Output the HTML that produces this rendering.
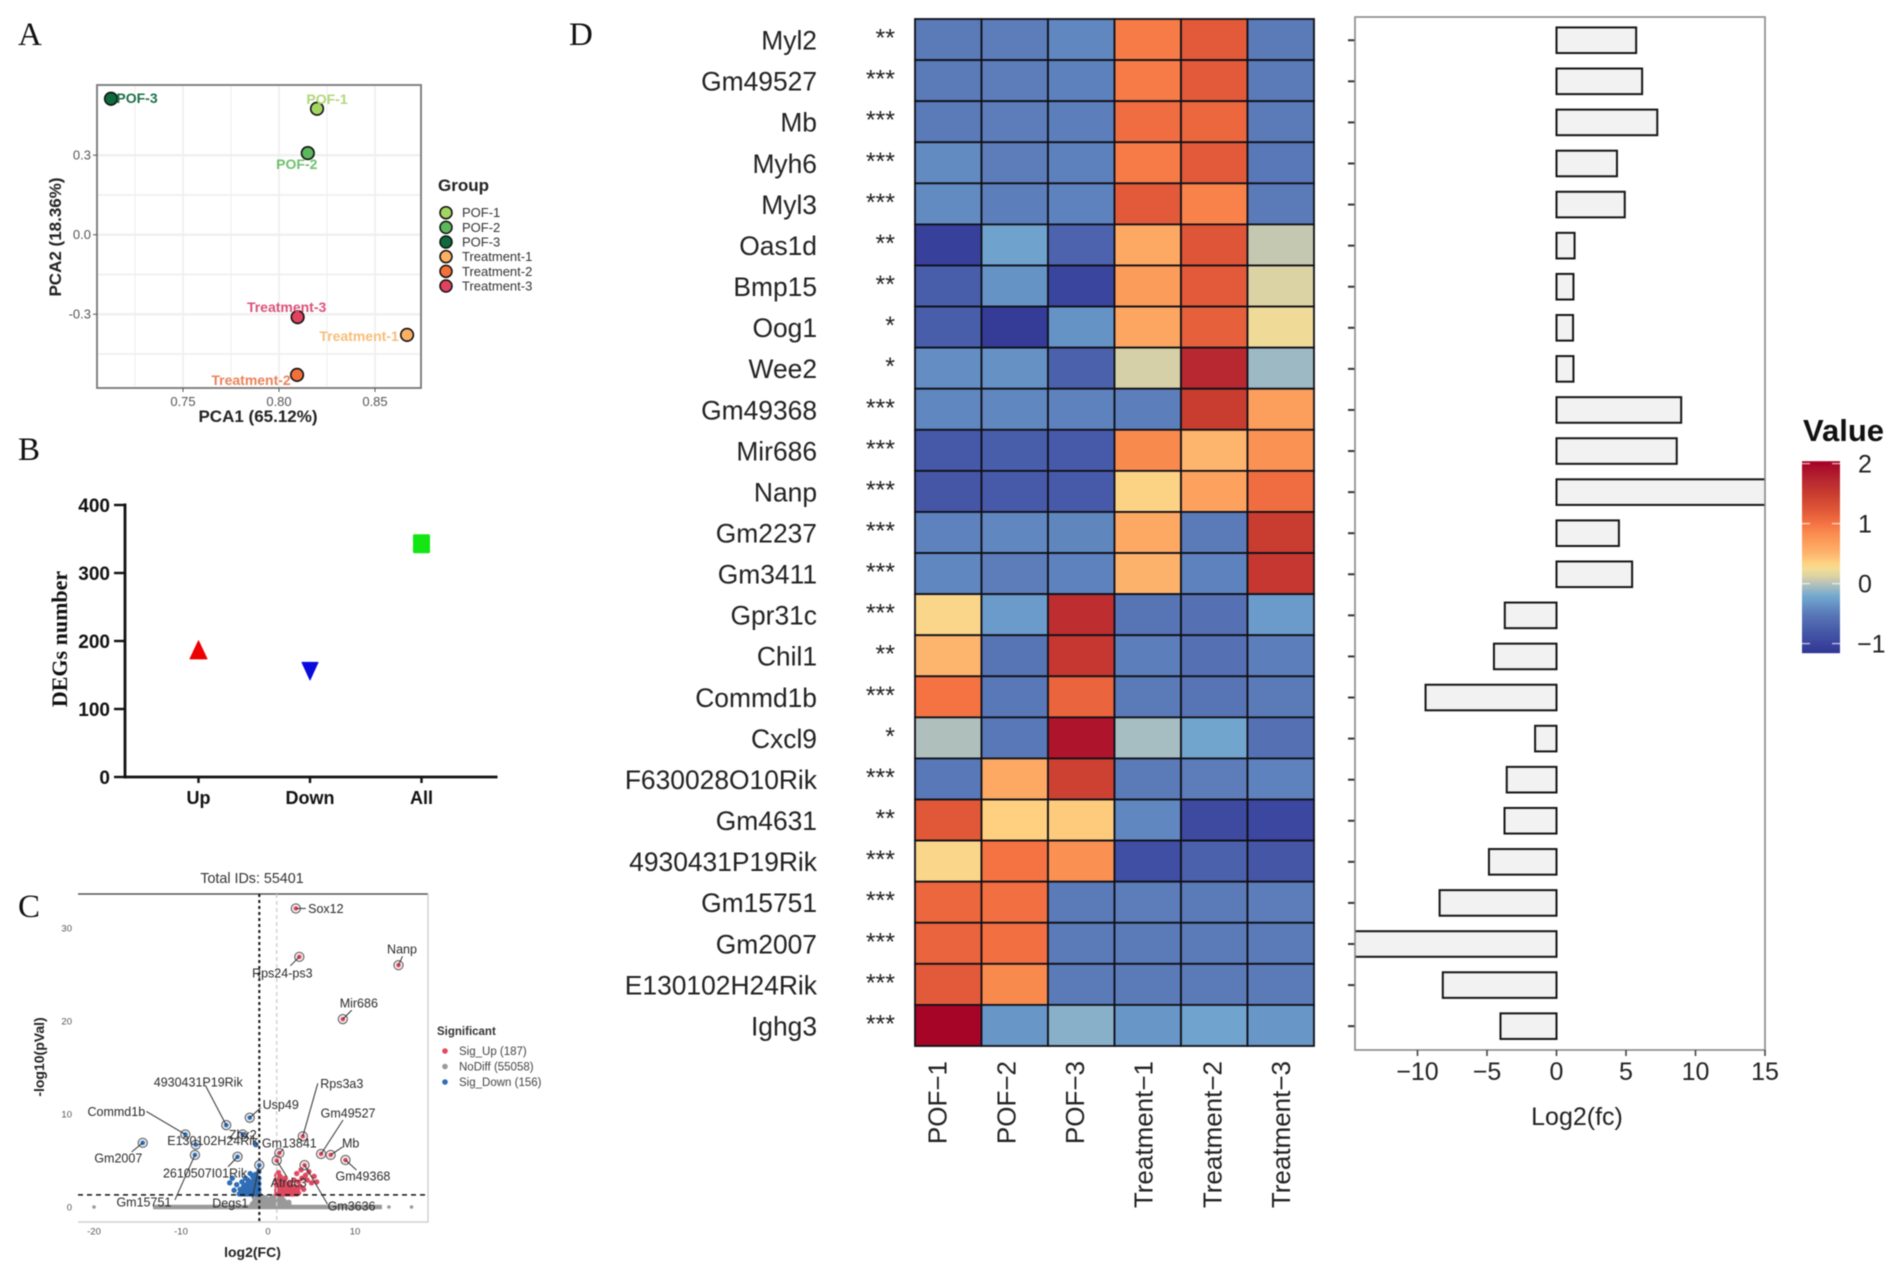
<!DOCTYPE html>
<html lang="en">
<head>
<meta charset="utf-8">
<title>Transcriptome figure: PCA, DEG counts, volcano plot and heatmap</title>
<style>
  html, body { margin: 0; padding: 0; background: #fff; }
  body { width: 1902px; height: 1273px; overflow: hidden; }
  svg { display: block; filter: blur(0.45px); }
  text { font-family: "Liberation Sans", sans-serif; }
  .serif { font-family: "Liberation Serif", serif; }
</style>
</head>
<body>
<svg id="fig" xmlns="http://www.w3.org/2000/svg" width="1902" height="1273" viewBox="0 0 1902 1273">
  <rect width="1902" height="1273" fill="#fff"/>
  <text class="serif" x="18" y="45" font-size="33" fill="#111">A</text>
  <text class="serif" x="18" y="460" font-size="33" fill="#111">B</text>
  <text class="serif" x="18" y="917" font-size="33" fill="#111">C</text>
  <text class="serif" x="569" y="45" font-size="33" fill="#111">D</text>

  <text x="258" y="422" font-size="17" font-weight="bold" text-anchor="middle" fill="#222">PCA1 (65.12%)</text>
  <text transform="translate(61 237) rotate(-90)" font-size="17" font-weight="bold" text-anchor="middle" fill="#222">PCA2 (18.36%)</text>
  <text x="438" y="191" font-size="17" font-weight="bold" fill="#222">Group</text>

  <text class="serif" transform="translate(67 639) rotate(-90)" font-size="22" font-weight="bold" text-anchor="middle" fill="#111">DEGs number</text>

  <text x="252" y="883" font-size="14.3" text-anchor="middle" fill="#333">Total IDs: 55401</text>
  <text x="252.5" y="1257" font-size="14" font-weight="bold" text-anchor="middle" fill="#222">log2(FC)</text>
  <text transform="translate(44 1057) rotate(-90)" font-size="14" font-weight="bold" text-anchor="middle" fill="#222">-log10(pVal)</text>
  <text x="437" y="1035" font-size="11.5" font-weight="bold" fill="#333">Significant</text>

  <text x="1577" y="1125" font-size="25" text-anchor="middle" fill="#222">Log2(fc)</text>
  <text x="1803" y="441" font-size="31" font-weight="bold" fill="#111">Value</text>

  <defs>
    <clipPath id="bar-clip"><rect x="1355" y="17" width="410" height="1033"/></clipPath>
    <linearGradient id="value-gradient" x1="0" y1="1" x2="0" y2="0"></linearGradient>
  </defs>
</svg>

<script>
// ---------- Panel A: PCA ----------
const pcaGroups = ['POF-1', 'POF-2', 'POF-3', 'Treatment-1', 'Treatment-2', 'Treatment-3'];
const pcaScore1 = [0.8198, 0.8150, 0.7125, 0.8667, 0.8094, 0.8097];
const pcaScore2 = [0.4755, 0.3080, 0.5130, -0.3780, -0.5290, -0.3110];
const pcaXTicks = [0.75, 0.80, 0.85];
const pcaYTicks = [0.3, 0.0, -0.3];
const pcaXMinor = [0.725, 0.775, 0.825];
const pcaYMinor = [0.15, -0.15, -0.45];

// ---------- Panel B: DEG counts ----------
const degCategories = ['Up', 'Down', 'All'];
const degCounts = [187, 156, 343];
const degTicks = [0, 100, 200, 300, 400];

// ---------- Panel C: volcano ----------
const volcanoXTicks = [-20, -10, 0, 10];
const volcanoYTicks = [0, 10, 20, 30];
const volcanoBandRange = [-13.2, 13.1];
const calloutGenes = ['Sox12','Rps24-ps3','Nanp','Mir686','Gm49527','Mb','Gm49368','Rps3a3','Gm13841','Atrdc3','Gm3636','Gm2007','Commd1b','4930431P19Rik','Usp49','Zhx2','E130102H24Rik','Gm15751','2610507I01Rik','Degs1'];
const calloutLog2FC = [3.2,3.6,15,8.6,6.1,7.2,8.9,4,1.3,1,4.2,-14.4,-9.5,-4.8,-2.1,-2.9,-8.3,-8.4,-3.5,-1];
const calloutLogP = [32.1,26.9,26,20.2,5.7,5.6,5.05,7.6,5.8,5,4.5,6.9,7.8,8.8,9.6,7.8,6.7,5.6,5.4,4.5];
const upX = [1,1,1,1,1.1,1.1,1.1,1.1,1.2,1.2,1.2,1.2,1.2,1.3,1.3,1.3,1.4,1.4,1.4,1.4,1.5,1.5,1.5,1.6,1.6,1.6,1.6,1.7,1.7,1.8,1.8,1.8,1.9,1.9,2,2,2,2,2.1,2.2,2.2,2.3,2.3,2.4,2.5,2.5,2.6,2.7,2.7,2.8,2.9,3,3,3.1,3.2,3.3,3.4,3.5,3.5,3.7,3.8,3.9,4.1,4.3,4.5,4.7,5,5.3,5.6,
  1,1.05,1.05,1.15,1.15,1.25,1.25,1.25,1.35,1.35,1.35,1.45,1.45,1.55,1.55,1.55,1.65,1.65,1.75,1.75,1.75,1.85,1.85,1.95,1.95,2.05,2.05,2.15,2.15,2.25,2.35,2.35,2.45,2.55,2.65,2.75,2.85,2.95,3.1,3.3];
const upY = [1.4,1.8,2.3,2.8,1.5,2.0,2.6,3.2,1.4,1.9,2.4,3.0,3.7,1.6,2.2,2.8,1.4,1.9,2.5,3.3,1.6,2.1,2.7,1.4,1.9,2.4,3.0,1.6,2.2,1.4,1.9,2.6,1.6,2.2,1.4,1.9,2.5,3.1,1.6,1.4,2.0,1.6,2.4,1.4,1.8,2.6,1.4,1.7,2.2,1.4,1.9,1.5,2.9,2.2,1.6,3.6,1.9,1.5,2.7,2.2,4.0,3.1,1.9,3.4,2.9,3.8,2.6,3.3,2.7,
  3.4,1.6,2.2,1.7,2.7,1.5,2.1,3.4,1.4,1.9,2.5,1.7,2.2,1.4,2.4,2.9,1.7,2.1,1.4,1.9,2.5,1.7,2.3,1.4,1.9,1.7,2.2,1.5,1.9,1.8,1.5,2.0,1.6,1.9,1.5,1.9,1.6,1.4,1.6,1.4];
const downX = [-1.05,-1.05,-1.05,-1.05,-1.05,-1.15,-1.15,-1.15,-1.25,-1.25,-1.25,-1.25,-1.35,-1.35,-1.35,-1.45,-1.45,-1.45,-1.45,-1.55,-1.55,-1.55,-1.65,-1.65,-1.65,-1.75,-1.75,-1.75,-1.85,-1.85,-1.85,-1.95,-1.95,-2.05,-2.05,-2.05,-2.05,-2.2,-2.2,-2.3,-2.3,-2.4,-2.5,-2.5,-2.6,-2.7,-2.8,-2.8,-3,-3,-3.2,-3.3,-3.6,-3.9,-4.1,-4.4,-1.4,
  -1.1,-1.1,-1.2,-1.2,-1.3,-1.3,-1.3,-1.4,-1.4,-1.5,-1.5,-1.5,-1.6,-1.6,-1.7,-1.7,-1.7,-1.8,-1.8,-1.9,-1.9,-1.9,-2,-2,-2.1,-2.1,-2.2,-2.3,-2.3,-2.4,-2.5,-2.6,-2.6,-2.7,-2.9,-3.1];
const downY = [1.4,1.9,2.5,3.1,3.8,1.5,2.1,2.8,1.4,1.9,2.4,3.2,1.6,2.2,2.9,1.4,1.9,2.5,3.5,1.6,2.2,3.0,1.4,1.9,2.6,1.6,2.3,3.3,1.4,1.9,2.7,1.6,2.2,1.4,1.9,2.5,3.6,1.6,2.2,1.4,2.9,1.9,1.5,2.4,3.1,1.7,1.4,2.2,1.6,2.7,1.9,1.4,2.4,1.8,3.1,2.6,6.7,
  1.7,2.4,1.6,2.2,1.4,1.9,2.6,1.6,2.2,1.4,1.9,2.7,1.7,2.4,1.4,2.0,2.8,1.6,2.3,1.4,1.9,2.5,1.7,2.2,1.4,2.0,1.9,1.6,2.2,1.4,1.9,1.4,2.1,1.5,1.8,1.4];
const noDiffX = [-1.8,-1.6,-1.5,-1.3,-1.2,-1.1,-1,-0.9,-0.8,-0.7,-0.6,-0.5,-0.4,-0.3,-0.2,-0.1,0,0.1,0.2,0.3,0.4,0.5,0.6,0.7,0.8,0.9,1,1.1,1.3,1.5,1.7,1.9,2.1,2.3,-0.8,-0.5,-0.2,0.2,0.5,0.8,-20,13.9,16.5,
  -1.7,-1.4,-1.4,-1,-1,-0.6,-0.6,-0.3,0,0,0.3,0.6,0.6,1,1.2,1.2,1.4,1.4,1.6,1.6,1.8,1.8,2,2,2.2,2.4,2.4];
const noDiffY = [0.3,0.5,0.8,0.4,0.9,1.1,0.6,1.2,0.7,1.1,0.5,0.9,0.4,0.7,0.3,0.4,0.2,0.4,0.3,0.6,0.5,0.9,0.7,1.1,0.8,1.2,0.7,1.1,0.9,0.7,0.6,0.5,0.4,0.3,0.3,0.4,0.2,0.2,0.3,0.4,0,0,0,
  0.2,0.3,0.7,0.2,0.9,0.3,0.8,1.0,0.5,0.8,0.9,0.3,1.0,0.3,0.5,0.9,0.3,0.7,0.4,0.9,0.3,0.7,0.2,0.5,0.3,0.2,0.5];
const volcanoLegendLabels = ['Sig_Up (187)', 'NoDiff (55058)', 'Sig_Down (156)'];

// ---------- Panel D: heatmap and log2FC bars ----------
const genes = ['Myl2','Gm49527','Mb','Myh6','Myl3','Oas1d','Bmp15','Oog1','Wee2','Gm49368','Mir686','Nanp','Gm2237','Gm3411','Gpr31c','Chil1','Commd1b','Cxcl9','F630028O10Rik','Gm4631','4930431P19Rik','Gm15751','Gm2007','E130102H24Rik','Ighg3'];
const stars = ['**','***','***','***','***','**','**','*','*','***','***','***','***','***','***','**','***','*','***','**','***','***','***','***','***'];
const samples = ['POF\u22121','POF\u22122','POF\u22123','Treatment\u22121','Treatment\u22122','Treatment\u22123'];
const heatValues = [
  [-.5,-.48,-.42,.95,1.2,-.5],
  [-.5,-.48,-.46,.95,1.2,-.5],
  [-.5,-.48,-.47,1.05,1.1,-.5],
  [-.4,-.48,-.46,.95,1.2,-.52],
  [-.4,-.47,-.45,1.2,.9,-.5],
  [-1.05,-.25,-.7,.6,1.25,.05],
  [-.75,-.35,-1.0,.7,1.2,.12],
  [-.75,-1.1,-.35,.62,1.15,.22],
  [-.38,-.36,-.72,.1,1.72,-.08],
  [-.42,-.42,-.45,-.47,1.5,.68],
  [-.8,-.75,-.78,.85,.5,.78],
  [-.82,-.78,-.78,.33,.65,1.05],
  [-.45,-.42,-.43,.6,-.5,1.5],
  [-.42,-.48,-.45,.52,-.45,1.55],
  [.3,-.3,1.65,-.55,-.58,-.3],
  [.5,-.55,1.55,-.47,-.58,-.47],
  [1.0,-.52,1.12,-.5,-.55,-.5],
  [-.02,-.52,1.88,-.05,-.23,-.58],
  [-.52,.6,1.45,-.5,-.48,-.45],
  [1.22,.35,.38,-.42,-.95,-.98],
  [.3,1.0,.8,-.9,-.72,-.82],
  [1.1,1.03,-.5,-.48,-.5,-.48],
  [1.12,1.03,-.5,-.5,-.5,-.5],
  [1.2,.85,-.5,-.5,-.5,-.5],
  [2.0,-.33,-.14,-.33,-.24,-.33]
];
const log2fc = [5.73,6.16,7.25,4.35,4.91,1.3,1.22,1.19,1.22,8.97,8.65,15.6,4.49,5.44,-3.72,-4.5,-9.42,-1.54,-3.58,-3.74,-4.86,-8.41,-15.2,-8.18,-4.03];
const fcTicks = [-10,-5,0,5,10,15];
const valueTicks = [2,1,0,-1];
const scaleValues = [-1.16,-0.8,-0.5,-0.3,-0.2,-0.05,0.05,0.12,0.25,0.35,0.5,0.65,0.85,1.0,1.2,1.5,1.75,2.04];

// ---------- Styling (not data) ----------
const pcaColors = ['#a2d660','#5cb85c','#0f6b3c','#fdb063','#f4703a','#e0435f'];
const pcaTextColors = ['#b0d878','#6fc06f','#1a7048','#f6bd78','#e8835a','#d8527a'];
const pcaLabelShift = [[10,-9.7],[-11,11],[26,-0.7],[-48,1],[-46,5],[-11,-10]];
const scaleColors = ['#313695','#4658a8','#5a7ab8','#6a9bca','#74a9cf','#a6bdc1','#c5c8b0','#dbd3a4','#f5dc95','#fed080','#fdb56e','#fda25e','#f98a4e','#f57343','#e25a39','#c93c30','#b62530','#a50026'];
// Callout layout, relative to each point: text dx, text dy, leader dx, leader dy
const calloutLayout = [[30,0,10,0],[-17,16,-9,9],[3.5,-16,4,-9],[16,-16,9,-9],[27,-41,22,-34],[20,-12,12,-8],[17.5,16,11,10],[39,-53,15,-53],[10,-10,4,-4],[12,22,10,16],[47,41,23,39],[-24.4,15,-11,9],[-69,-23,-39,-23],[-28,-43,-21,-40],[31,-13,11,-10],[0,0,0,0],[17,-4,0,0],[-51,47,-20,45],[-32.5,16,-9.5,10],[-29,38,-7,33]];

// ---------- Axis functions ----------
const pcaX = v => 183 + (v - 0.75) * 1920;
const pcaY = v => 234.7 - v * 265;
const degY = v => 777 - v * 0.68;
const degX = i => 198.5 + i * 111.5;
const volX = v => 268 + v * 8.7;
const volY = v => 1207 - v * 9.3;
const rowY = i => 19 + i * 41.08;
const rowMid = i => rowY(i) + 20.54;
const colX = j => 915 + j * 66.5;
const sampleLabelX = j => 946.6 + j * 68.7;
const fcX = v => 1556.5 + v * 13.9;
const valueY = v => 583.6 - v * 60;

function hexToRgb(h) { return [1, 3, 5].map(k => parseInt(h.substr(k, 2), 16)); }
function heatColor(v) {
  const n = scaleValues.length;
  if (v <= scaleValues[0]) return scaleColors[0];
  if (v >= scaleValues[n - 1]) return scaleColors[n - 1];
  let i = 0;
  while (v > scaleValues[i + 1]) i++;
  const t = (v - scaleValues[i]) / (scaleValues[i + 1] - scaleValues[i]);
  const a = hexToRgb(scaleColors[i]);
  const b = hexToRgb(scaleColors[i + 1]);
  return 'rgb(' + a.map((c, k) => Math.round(c + (b[k] - c) * t)).join(',') + ')';
}

const svg = document.getElementById('fig');
const NS = 'http://www.w3.org/2000/svg';
function add(parent, tag, attrs, text) {
  const e = document.createElementNS(NS, tag);
  for (const k in attrs) e.setAttribute(k, attrs[k]);
  if (text !== undefined) e.textContent = text;
  parent.appendChild(e);
  return e;
}
let el;

// ---------- Panel A ----------
const gA = add(svg, 'g', {});


pcaXTicks.concat(pcaXMinor).forEach((t, i) => {
  el = add(gA, 'line', {x1: pcaX(t), x2: pcaX(t), y1: 85, y2: 388, stroke: '#eeeeee', 'stroke-width': i < 3 ? 1.5 : 1});
  
  
});
pcaYTicks.concat(pcaYMinor).forEach((t, i) => {
  el = add(gA, 'line', {x1: 97, x2: 421, y1: pcaY(t), y2: pcaY(t), stroke: '#eeeeee', 'stroke-width': i < 3 ? 2 : 1.5});
  
  
});
el = add(gA, 'rect', {x: 97, y: 85, width: 324, height: 303, fill: 'none', stroke: '#777', 'stroke-width': 1.8});


pcaXTicks.forEach(t => {
  el = add(gA, 'line', {x1: pcaX(t), x2: pcaX(t), y1: 388, y2: 392, stroke: '#555', 'stroke-width': 1});
  
  
  el = add(gA, 'text', {x: pcaX(t), y: 406, 'font-size': 13, 'text-anchor': 'middle', fill: '#555'}, t.toFixed(2));
  
  
});
pcaYTicks.forEach(t => {
  el = add(gA, 'line', {x1: 93, x2: 97, y1: pcaY(t), y2: pcaY(t), stroke: '#555', 'stroke-width': 1});
  
  
  el = add(gA, 'text', {x: 91, y: pcaY(t) + 4.5, 'font-size': 13, 'text-anchor': 'end', fill: '#555'}, t.toFixed(1));
  
  
});
pcaGroups.forEach((g, i) => {
  el = add(gA, 'circle', {cx: pcaX(pcaScore1[i]), cy: pcaY(pcaScore2[i]), r: 6.3, fill: pcaColors[i], stroke: '#111', 'stroke-width': 1.6});
  
  
  el = add(gA, 'text', {x: pcaX(pcaScore1[i]) + pcaLabelShift[i][0], y: pcaY(pcaScore2[i]) + pcaLabelShift[i][1] + 5, 'font-size': 14, 'font-weight': 'bold', 'text-anchor': 'middle', fill: pcaTextColors[i]}, g);
  
  
  el = add(gA, 'circle', {cx: 446, cy: 212.7 + i * 14.66, r: 6, fill: pcaColors[i], stroke: '#111', 'stroke-width': 1.5});
  
  
  el = add(gA, 'text', {x: 462, y: 217.2 + i * 14.66, 'font-size': 13, fill: '#333'}, g);
  
  
});

// ---------- Panel B ----------
const gB = add(svg, 'g', {});


el = add(gB, 'line', {x1: 125, x2: 125, y1: degY(400) - 1.5, y2: degY(0) + 1.5, stroke: '#111', 'stroke-width': 2.8});


el = add(gB, 'line', {x1: 125, x2: 497.5, y1: degY(0), y2: degY(0), stroke: '#111', 'stroke-width': 2.8});


degTicks.forEach(t => {
  el = add(gB, 'line', {x1: 114, x2: 125, y1: degY(t), y2: degY(t), stroke: '#111', 'stroke-width': 2.4});
  
  
  el = add(gB, 'text', {x: 110, y: degY(t) + 7, 'font-size': 19, 'font-weight': 'bold', 'text-anchor': 'end', fill: '#111'}, t);
  
  
});
degCategories.forEach((c, i) => {
  const cx = degX(i), cy = degY(degCounts[i]);
  el = add(gB, 'line', {x1: cx, x2: cx, y1: degY(0), y2: degY(0) + 6, stroke: '#111', 'stroke-width': 2.4});
  
  
  el = add(gB, 'text', {x: cx, y: 804, 'font-size': 18, 'font-weight': 'bold', 'text-anchor': 'middle', fill: '#111'}, c);
  
  
  if (i === 0) {
    el = add(gB, 'path', {d: 'M' + cx + ' ' + (cy - 9) + 'L' + (cx + 8.5) + ' ' + (cy + 9) + 'L' + (cx - 8.5) + ' ' + (cy + 9) + 'Z', fill: '#ee0000', stroke: '#ee0000', 'stroke-linejoin': 'round'});
  } else if (i === 1) {
    el = add(gB, 'path', {d: 'M' + cx + ' ' + (cy + 9) + 'L' + (cx + 8) + ' ' + (cy - 8.5) + 'L' + (cx - 8) + ' ' + (cy - 8.5) + 'Z', fill: '#0a0adf', stroke: '#0a0adf', 'stroke-linejoin': 'round'});
  } else {
    el = add(gB, 'rect', {x: cx - 8.5, y: cy - 9.5, width: 17, height: 19, rx: 1.5, fill: '#14e614'});
  }
  
  
});

// ---------- Panel C ----------
const gC = add(svg, 'g', {});


el = add(gC, 'line', {x1: 78, x2: 428, y1: 894, y2: 894, stroke: '#555', 'stroke-width': 1.6});


el = add(gC, 'path', {d: 'M78 1222H428V894', fill: 'none', stroke: '#d0d0d0', 'stroke-width': 1.4});


volcanoXTicks.forEach(t => {
  el = add(gC, 'text', {x: volX(t), y: 1234.5, 'font-size': 9.5, 'text-anchor': 'middle', fill: '#555'}, t);
  
  
});
volcanoYTicks.forEach(t => {
  el = add(gC, 'text', {x: 72, y: volY(t) + 3.5, 'font-size': 9.5, 'text-anchor': 'end', fill: '#555'}, t);
  
  
});
el = add(gC, 'line', {x1: volX(volcanoBandRange[0]), x2: volX(volcanoBandRange[1]), y1: volY(0), y2: volY(0), stroke: '#999', 'stroke-width': 4.5});


noDiffX.forEach((x, i) => {
  el = add(gC, 'circle', {cx: volX(x), cy: volY(noDiffY[i]), r: Math.abs(x) > 10 ? 1.8 : 2.7, fill: '#999'});
  
  
});
upX.forEach((x, i) => {
  el = add(gC, 'circle', {cx: volX(x), cy: volY(upY[i]), r: 2.7, fill: '#dd4a5f'});
  
  
});
downX.forEach((x, i) => {
  el = add(gC, 'circle', {cx: volX(x), cy: volY(downY[i]), r: 2.7, fill: '#2f6db5'});
  
  
});
el = add(gC, 'line', {x1: volX(1), x2: volX(1), y1: 894, y2: 1222, stroke: '#cfcfcf', 'stroke-width': 1.4, 'stroke-dasharray': '4 3'});


el = add(gC, 'line', {x1: volX(-1), x2: volX(-1), y1: 894, y2: 1222, stroke: '#111', 'stroke-width': 2, 'stroke-dasharray': '3 3'});


el = add(gC, 'line', {x1: 78, x2: 428, y1: volY(1.3), y2: volY(1.3), stroke: '#111', 'stroke-width': 1.5, 'stroke-dasharray': '5 4'});


calloutGenes.forEach((g, i) => {
  const px = volX(calloutLog2FC[i]), py = volY(calloutLogP[i]);
  const lay = calloutLayout[i];
  const isUp = calloutLog2FC[i] > 0;
  el = add(gC, 'circle', {cx: px, cy: py, r: 2.2, fill: isUp ? '#dd4a5f' : '#2f6db5'});
  
  
  el = add(gC, 'circle', {cx: px, cy: py, r: 4.6, fill: isUp ? 'rgba(221,74,95,.12)' : 'rgba(47,109,181,.15)', stroke: '#555', 'stroke-width': 1});
  
  
  if (lay[2] !== 0 || lay[3] !== 0) {
    el = add(gC, 'line', {x1: px, y1: py, x2: px + lay[2], y2: py + lay[3], stroke: '#333', 'stroke-width': 1});
    
    
  }
  el = add(gC, 'text', {x: px + lay[0], y: py + lay[1] + 4.5, 'font-size': 12.5, 'text-anchor': 'middle', fill: '#2a2a2a'}, g);
  
  
});
['#dd4a5f', '#999', '#2f6db5'].forEach((c, i) => {
  el = add(gC, 'circle', {cx: 445, cy: 1051 + i * 15.5, r: 2.8, fill: c});
  
  
  el = add(gC, 'text', {x: 459, y: 1055 + i * 15.5, 'font-size': 11.5, fill: '#444'}, volcanoLegendLabels[i]);
  
  
});

// ---------- Panel D: heatmap ----------
const gD = add(svg, 'g', {});


genes.forEach((g, r) => {
  el = add(gD, 'text', {x: 817, y: rowMid(r) + 10, 'font-size': 26.4, 'text-anchor': 'end', fill: '#222'}, g);
  
  
  el = add(gD, 'text', {x: 895, y: rowMid(r) + 7, 'font-size': 25, 'text-anchor': 'end', fill: '#222'}, stars[r]);
  
  
  heatValues[r].forEach((v, c) => {
    el = add(gD, 'rect', {x: colX(c), y: rowY(r), width: 66.5, height: 41.08, fill: heatColor(v), stroke: '#101018', 'stroke-width': 1.8});
    
    
  });
});
samples.forEach((s, c) => {
  el = add(gD, 'text', {transform: 'translate(' + sampleLabelX(c) + ' 1061) rotate(-90)', 'font-size': 26, 'text-anchor': 'end', fill: '#222'}, s);
  
  
});

// ---------- Panel D: log2FC bars ----------
const gE = add(svg, 'g', {});


const barClip = add(gE, 'g', {'clip-path': 'url(#bar-clip)'});


log2fc.forEach((v, i) => {
  const x0 = Math.min(fcX(0), fcX(v));
  const w = Math.abs(fcX(v) - fcX(0));
  el = add(barClip, 'rect', {x: x0, y: rowMid(i) + 0.7 - 12.8, width: w, height: 25.6, fill: '#f2f2f2', stroke: '#151515', 'stroke-width': 2});
  
  
  el = add(gE, 'line', {x1: 1348, x2: 1355, y1: rowMid(i) + 0.7, y2: rowMid(i) + 0.7, stroke: '#333', 'stroke-width': 2});
  
  
});
el = add(gE, 'rect', {x: 1355, y: 17, width: 410, height: 1033, fill: 'none', stroke: '#888', 'stroke-width': 1.6});


fcTicks.forEach(t => {
  el = add(gE, 'line', {x1: fcX(t), x2: fcX(t), y1: 1050, y2: 1056, stroke: '#444', 'stroke-width': 1.6});
  
  
  el = add(gE, 'text', {x: fcX(t), y: 1080, 'font-size': 25, 'text-anchor': 'middle', fill: '#222'}, t < 0 ? '\u2212' + Math.abs(t) : t);
  
  
});

// ---------- Colorbar ----------
const grad = document.getElementById('value-gradient');
scaleValues.forEach((v, i) => {
  add(grad, 'stop', {offset: (v - scaleValues[0]) / (scaleValues[scaleValues.length - 1] - scaleValues[0]), 'stop-color': scaleColors[i]});
});
const gF = add(svg, 'g', {});


el = add(gF, 'rect', {x: 1802, y: valueY(scaleValues[scaleValues.length - 1]), width: 38, height: valueY(scaleValues[0]) - valueY(scaleValues[scaleValues.length - 1]), fill: 'url(#value-gradient)'});


valueTicks.forEach(t => {
  el = add(gF, 'line', {x1: 1802, x2: 1810, y1: valueY(t), y2: valueY(t), stroke: 'rgba(255,255,255,.65)', 'stroke-width': 1.4});
  
  
  el = add(gF, 'line', {x1: 1832, x2: 1840, y1: valueY(t), y2: valueY(t), stroke: 'rgba(255,255,255,.65)', 'stroke-width': 1.4});
  
  
  el = add(gF, 'text', {x: t < 0 ? 1857 : 1858, y: valueY(t) + 9, 'font-size': 25, fill: '#222'}, t < 0 ? '\u2212' + Math.abs(t) : t);
  
  
});
</script>
</body>
</html>
